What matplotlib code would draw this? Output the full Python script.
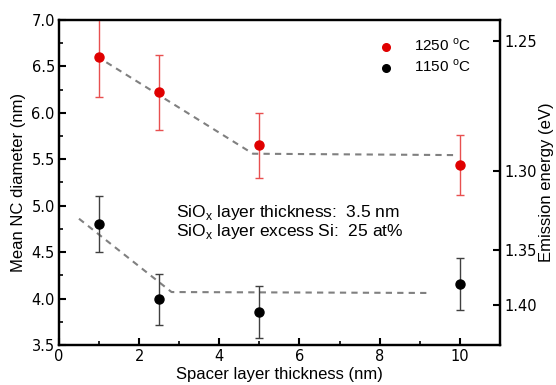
import matplotlib
matplotlib.use("Agg")
import matplotlib.pyplot as plt

# Data
spacer = [1, 2.5, 5, 10]
d1250 = [6.60, 6.22, 5.65, 5.44]
e1250 = [0.43, 0.40, 0.35, 0.32]
d1150 = [4.80, 3.99, 3.85, 4.16]
e1150 = [0.30, 0.27, 0.28, 0.28]

fit1250_x = [0.94, 4.84, 9.92]
fit1250_y = [6.61, 5.56, 5.545]
fit1150_x = [0.5, 2.81, 9.25]
fit1150_y = [4.86, 4.07, 4.06]

energy_labels = ["1.25", "1.30", "1.35", "1.40"]
energy_pos = [6.774, 5.377, 4.523, 3.931]

sans = ["Liberation Sans", "DejaVu Sans"]

fig = plt.figure(figsize=(5.56, 3.85), dpi=100)
ax = fig.add_axes([0.106, 0.104, 0.793, 0.844])

ax.plot(fit1250_x, fit1250_y, ls=(0, (3, 2.5)), color="#808080", lw=1.5, zorder=1)
ax.plot(fit1150_x, fit1150_y, ls=(0, (3, 2.5)), color="#808080", lw=1.5, zorder=1)

ax.errorbar(spacer, d1250, yerr=e1250, fmt="o", color="#e00000", ecolor="#e85050",
            ms=6.5, elinewidth=1, capsize=3, capthick=1, zorder=3)
ax.errorbar(spacer, d1150, yerr=e1150, fmt="o", color="black", ecolor="#404040",
            ms=6.5, elinewidth=1, capsize=3, capthick=1, zorder=3)

# legend
h1 = ax.scatter([], [], s=30, color="#e00000")
h2 = ax.scatter([], [], s=30, color="black")
leg = ax.legend([h1, h2], ["1250 $^\\mathregular{o}$C", "1150 $^\\mathregular{o}$C"],
                loc="upper right", bbox_to_anchor=(0.965, 0.99), frameon=False,
                prop={"family": sans, "size": 11}, handletextpad=0.8,
                labelspacing=0.3, scatterpoints=1)

ax.set_xlim(0, 11)
ax.set_ylim(3.5, 7.0)
ax.set_xticks([0, 2, 4, 6, 8, 10])
ax.set_xticks([1, 3, 5, 7, 9], minor=True)
ax.set_yticks([3.5, 4.0, 4.5, 5.0, 5.5, 6.0, 6.5, 7.0])
ax.set_yticks([3.75, 4.25, 4.75, 5.25, 5.75, 6.25, 6.75], minor=True)
ax.tick_params(which="major", direction="in", length=5, width=1.5, labelsize=10.5, pad=3)
ax.tick_params(which="minor", direction="in", length=3, width=1.2)
for s in ax.spines.values():
    s.set_linewidth(1.6)

ax.set_xlabel("Spacer layer thickness (nm)", fontsize=12, family=sans, labelpad=2)
ax.set_ylabel("Mean NC diameter (nm)", fontsize=12, family=sans, labelpad=4)

ax.text(2.92, 4.93, "SiO$_\\mathregular{x}$ layer thickness:  3.5 nm", fontsize=12.5,
        family=sans, va="center")
ax.text(2.92, 4.725, "SiO$_\\mathregular{x}$ layer excess Si:  25 at%", fontsize=12.5,
        family=sans, va="center")

ax2 = ax.twinx()
ax2.set_ylim(3.5, 7.0)
ax2.set_yticks(energy_pos)
ax2.set_yticklabels(energy_labels)
ax2.tick_params(direction="in", length=5, width=1.5, labelsize=10.5, pad=3)
ax2.set_ylabel("Emission energy (eV)", fontsize=12, family=sans, labelpad=2)
for s in ax2.spines.values():
    s.set_linewidth(1.6)

fig.savefig("out.png", dpi=100)
